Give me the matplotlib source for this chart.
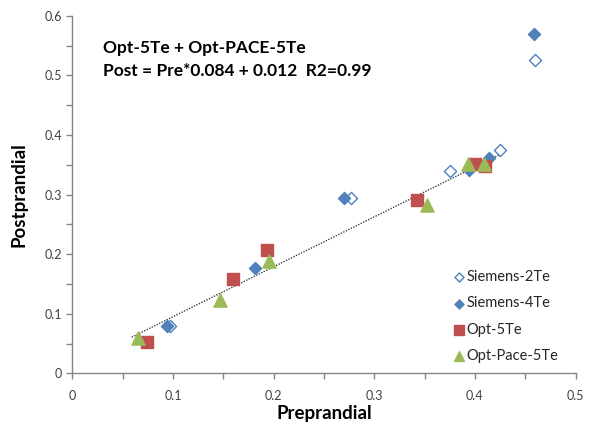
import matplotlib
matplotlib.use("Agg")
import matplotlib.pyplot as plt
import numpy as np
from matplotlib.ticker import MultipleLocator

plt.rcParams['font.family'] = ['Lato', 'DejaVu Sans']

# values (Preprandial, Postprandial)
siemens2_x = [0.460, 0.425, 0.375, 0.277, 0.097]
siemens2_y = [0.526, 0.375, 0.340, 0.295, 0.080]

siemens4_x = [0.459, 0.414, 0.394, 0.270, 0.182, 0.094]
siemens4_y = [0.570, 0.362, 0.341, 0.295, 0.177, 0.079]

opt_x = [0.400, 0.410, 0.342, 0.193, 0.160, 0.074]
opt_y = [0.351, 0.348, 0.290, 0.207, 0.158, 0.053]

pace_x = [0.393, 0.409, 0.352, 0.195, 0.147, 0.065]
pace_y = [0.352, 0.352, 0.283, 0.189, 0.123, 0.059]

trend_range = [0.059, 0.425]

blue = '#4F81BD'
red = '#C0504D'
green = '#9BBB59'
grey = '#868686'

fig = plt.figure(figsize=(5.94, 4.26), dpi=100)
ax = fig.add_axes([0.1217, 0.1237, 0.8473, 0.8393])

# linear trend on Opt-5Te + Opt-Pace-5Te
fx = np.array(opt_x + pace_x)
fy = np.array(opt_y + pace_y)
k, b = np.polyfit(fx, fy, 1)
tx = np.array(trend_range)
ax.plot(tx, k * tx + b, color='#404040', linestyle=(0, (1, 1)), linewidth=1.0, zorder=1)

ax.scatter(siemens2_x, siemens2_y, marker='D', s=38, facecolor='white',
           edgecolor=blue, linewidth=1.0, label='Siemens-2Te', zorder=3)
ax.scatter(siemens4_x, siemens4_y, marker='D', s=38, color=blue,
           label='Siemens-4Te', zorder=3)
ax.scatter(opt_x, opt_y, marker='s', s=80, color=red, label='Opt-5Te', zorder=3)
ax.scatter(pace_x, pace_y, marker='^', s=90, color=green, label='Opt-Pace-5Te', zorder=4)

ax.set_xlim(0, 0.5)
ax.set_ylim(0, 0.6)
ax.xaxis.set_major_locator(MultipleLocator(0.1))
ax.xaxis.set_minor_locator(MultipleLocator(0.05))
ax.yaxis.set_major_locator(MultipleLocator(0.1))
ax.yaxis.set_minor_locator(MultipleLocator(0.05))
ax.xaxis.set_major_formatter(lambda v, p: '0' if abs(v) < 1e-9 else f'{v:g}')
ax.yaxis.set_major_formatter(lambda v, p: '0' if abs(v) < 1e-9 else f'{v:g}')

for s in ['top', 'right']:
    ax.spines[s].set_visible(False)
for s in ['left', 'bottom']:
    ax.spines[s].set_color(grey)
    ax.spines[s].set_linewidth(1.0)
ax.tick_params(which='both', direction='out', length=4, width=1, color=grey)
ax.tick_params(axis='both', labelsize=9, labelcolor='#404040')
ax.tick_params(axis='x', pad=8)

ax.set_xlabel('Preprandial', fontsize=13.5, fontweight='bold', labelpad=2)
ax.set_ylabel('Postprandial', fontsize=13.5, fontweight='bold', labelpad=12)

fig.text(0.174, 0.887, 'Opt-5Te + Opt-PACE-5Te', fontsize=12.5, fontweight='bold', va='center')
fig.text(0.174, 0.833, 'Post = Pre*0.084 + 0.012  R2=0.99', fontsize=12.5, fontweight='bold', va='center')

leg = ax.legend(loc='lower left', bbox_to_anchor=(0.743, 0.012), frameon=False,
                fontsize=10.5, handletextpad=0.0, handlelength=1.0, labelspacing=0.85,
                markerscale=0.75, borderaxespad=0)
for t in leg.get_texts():
    t.set_color('#262626')

fig.savefig('out.png', dpi=100)
